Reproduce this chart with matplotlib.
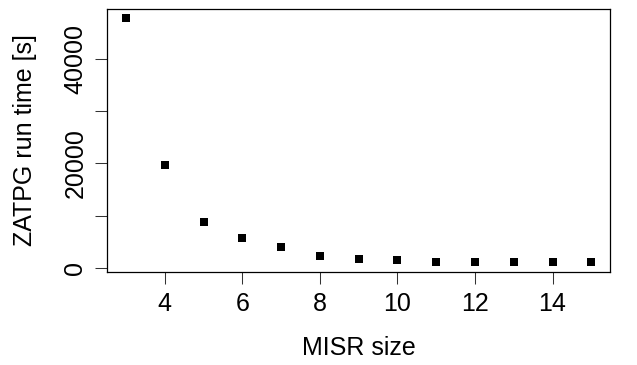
import matplotlib
matplotlib.use("Agg")
import matplotlib.pyplot as plt

# run time per MISR size
misr_size = [3, 4, 5, 6, 7, 8, 9, 10, 11, 12, 13, 14, 15]
runtime = [47650, 19600, 8880, 5740, 4100, 2370, 1800, 1610, 1220, 1210, 1220, 1210, 1220]

x_ticks = [4, 6, 8, 10, 12, 14]
y_ticks = [0, 10000, 20000, 30000, 40000]
y_tick_labels = ["0", "", "20000", "", "40000"]

plt.rcParams["font.family"] = ["Liberation Sans", "DejaVu Sans"]
fs = 18

fig = plt.figure(figsize=(6.37, 3.65), dpi=100)
ax = fig.add_axes([0.1685, 0.256, 0.789, 0.72])

ax.plot(misr_size, runtime, "s", color="black", markersize=6.3, markeredgewidth=0)

# R-style 4% padding on both axes
xr = max(misr_size) - min(misr_size)
yr = max(runtime) - min(runtime)
ax.set_xlim(min(misr_size) - 0.04 * xr, max(misr_size) + 0.04 * xr)
ax.set_ylim(min(runtime) - 0.04 * yr, max(runtime) + 0.04 * yr)

ax.set_xticks(x_ticks)
ax.set_xticklabels([str(t) for t in x_ticks])
ax.set_yticks(y_ticks)
ax.set_yticklabels(y_tick_labels, rotation=90, va="center")

ax.tick_params(axis="both", direction="out", length=8.4, width=0.75,
               labelsize=fs, color="#333333")
ax.tick_params(axis="x", pad=6.5)
ax.tick_params(axis="y", pad=6)

for s in ax.spines.values():
    s.set_linewidth(0.9)
    s.set_color("black")

ax.set_xlabel("MISR size", fontsize=fs)
ax.set_ylabel("ZATPG run time [s]", fontsize=fs)
ax.xaxis.set_label_coords(0.5, -0.291)
ax.xaxis.label.set_verticalalignment("center")
ax.yaxis.set_label_coords(-0.163, 0.5)
ax.yaxis.label.set_verticalalignment("center")

fig.savefig("out.png", dpi=100)
